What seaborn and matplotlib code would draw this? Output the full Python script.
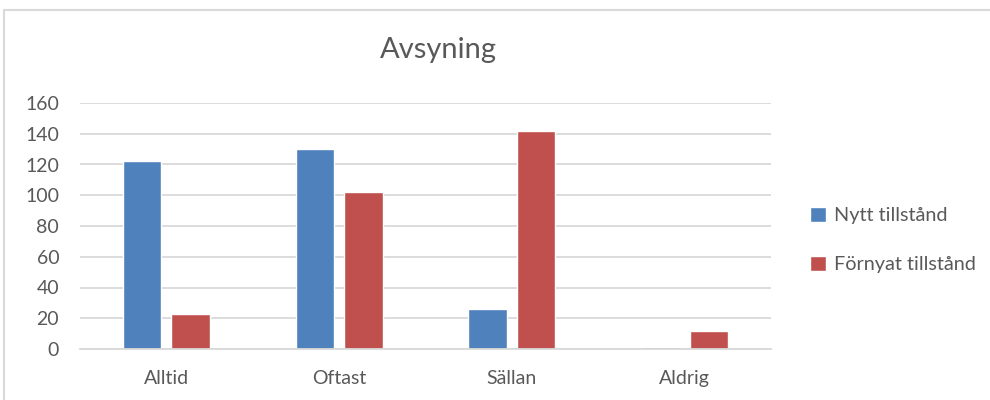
import matplotlib
matplotlib.use("Agg")
import matplotlib.pyplot as plt
from matplotlib.patches import Rectangle
import seaborn as sns
import pandas as pd

categories = ["Alltid", "Oftast", "Sällan", "Aldrig"]
nytt = [122, 130, 26, 1]
fornyat = [23, 102, 142, 12]
series_names = ["Nytt tillstånd", "Förnyat tillstånd"]
title = "Avsyning"
yticks = [0, 20, 40, 60, 80, 100, 120, 140, 160]

df = pd.DataFrame({
    "kategori": categories * 2,
    "antal": nytt + fornyat,
    "serie": [series_names[0]] * 4 + [series_names[1]] * 4,
})

sns.set_theme(style="white")
plt.rcParams["font.family"] = ["Lato", "DejaVu Sans"]
txt = "#595959"
grid = "#d9d9d9"

fig = plt.figure(figsize=(9.9, 4.0), dpi=100)
ax = fig.add_axes([80 / 990, 1 - 349 / 400, (771 - 80) / 990, 246 / 400])

sns.barplot(data=df, x="kategori", y="antal", hue="serie", order=categories,
            hue_order=series_names, palette=["#4F81BD", "#C0504D"],
            width=0.562, gap=0.21, ax=ax, legend=True, saturation=1)

ax.set_ylim(0, 160)
ax.set_yticks(yticks)
ax.set_xlabel("")
ax.set_ylabel("")
ax.yaxis.grid(True, color=grid, linewidth=1.3)
ax.set_axisbelow(True)
for s in ["top", "right", "left"]:
    ax.spines[s].set_visible(False)
ax.spines["bottom"].set_color(grid)
ax.spines["bottom"].set_linewidth(1.3)
ax.tick_params(axis="both", length=0, labelsize=14, colors=txt)
ax.tick_params(axis="x", pad=15)
ax.tick_params(axis="y", pad=15)

handles, labels = ax.get_legend_handles_labels()
ax.get_legend().remove()
fig.legend(handles, labels, loc="center left", bbox_to_anchor=(792 / 990, 1 - 240 / 400),
           frameon=False, fontsize=14.3, labelcolor=txt, handlelength=0.8, handleheight=0.8,
           handletextpad=0.4, labelspacing=1.6)

fig.text(438 / 990, 1 - 50 / 400, title, ha="center", va="center", fontsize=21, color=txt)

fig.patches.append(Rectangle((4 / 990, -0.05), 1.2, 1.05 - 10 / 400, transform=fig.transFigure,
                             fill=False, edgecolor=grid, linewidth=1.5))

fig.savefig("out.png", dpi=100)
